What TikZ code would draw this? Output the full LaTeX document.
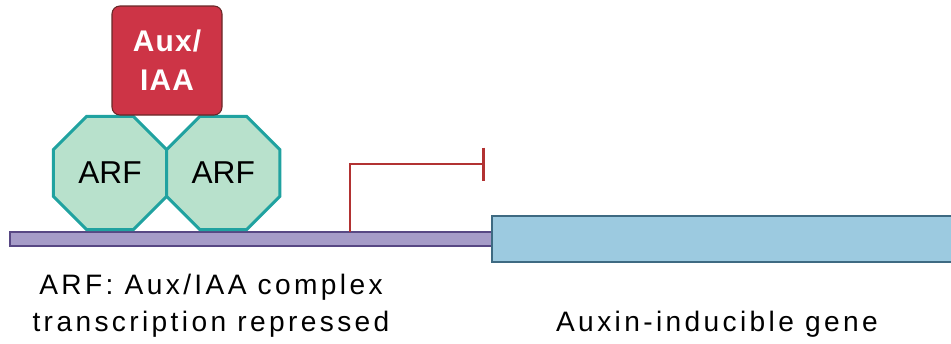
\documentclass[tikz,border=0pt]{standalone}
\usepackage{fontspec}
\setmainfont{Liberation Sans}
\newfontfamily\lblfont[LetterSpace=12]{Liberation Sans}
\newfontfamily\auxfont[LetterSpace=4]{Liberation Sans}
\usepackage{tikz}
\usetikzlibrary{shapes.geometric,arrows.meta,positioning}
\definecolor{arfgreen}{RGB}{184,225,204}
\definecolor{arfteal}{RGB}{32,162,160}
\definecolor{auxred}{RGB}{205,52,70}
\definecolor{auxdark}{RGB}{105,40,40}
\definecolor{dnafill}{RGB}{166,156,200}
\definecolor{dnaline}{RGB}{88,72,132}
\definecolor{genefill}{RGB}{156,202,224}
\definecolor{geneline}{RGB}{62,106,130}
\definecolor{promred}{RGB}{178,50,50}

\begin{document}
\begin{tikzpicture}[
        marf/.style = {regular polygon, regular polygon sides = 8, draw = arfteal, fill = arfgreen, line width = 1.7pt, minimum size = 2.45cm, inner sep = 0pt, outer sep = 0pt, font = \fontsize{18pt}{22pt}\selectfont},
        maux/.style = {draw = auxdark, fill = auxred, line width = 0.6pt, rounded corners = 4.5pt, minimum width = 2.2cm, minimum height = 2.18cm, inner sep = 0pt, align = center, text = white, font = \auxfont\bfseries\fontsize{17pt}{22pt}\selectfont},
        mbar/.style = {draw = dnaline, fill = dnafill, line width = 0.8pt},
        mgene/.style = {draw = geneline, fill = genefill, line width = 1.3pt},
        mprom/.style = {arrows = {-Bar[width = 0.66cm, line width = 1.5pt]}, promred, line width = 1.5pt},
        mlabel/.style = {align = center, inner sep = 0pt, anchor = base, font = \lblfont\fontsize{16pt}{21pt}\selectfont}
        ]
        \useasboundingbox (0,0) rectangle (19.02,6.86);

        % DNA and gene
        \draw[mbar] (0.2,1.94) rectangle (9.86,2.22);
        \draw[mgene] (19.3,2.54) -- (9.84,2.54) -- (9.84,1.62) -- (19.3,1.62);

        % promoter
        \coordinate (tss) at (7.0,2.22);
        \coordinate (tse) at (9.7,3.58);
        \draw[mprom] (tss) |- (tse);

        % proteins
        \node[marf] (Ra) at (2.2,3.4) {ARF};
        \node[marf, right = 0pt of Ra] (Rb) {ARF};
        \node[maux] (X) at (3.34,5.65) {Aux/\\IAA};

        % labels
        \node[mlabel] (La) at (4.22,0.24) {ARF: Aux/IAA complex\\transcription repressed};
        \node[mlabel] (Lb) at (14.34,0.24) {Auxin-inducible gene};

    \end{tikzpicture}
\end{document}
